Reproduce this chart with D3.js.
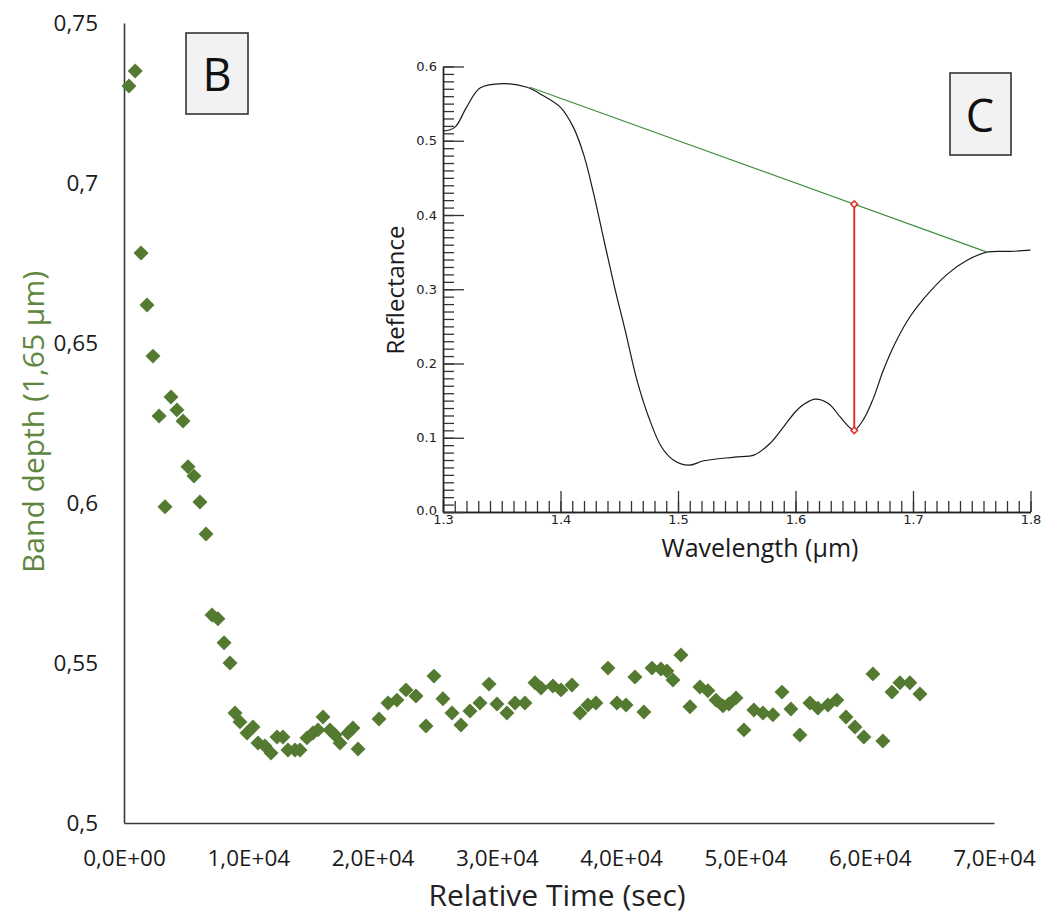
<!DOCTYPE html>
<html>
<head>
<meta charset="utf-8">
<script src="https://cdn.jsdelivr.net/npm/d3@7"></script>
<style>
html,body{margin:0;padding:0;background:#fff;}
svg{display:block;}
</style>
</head>
<body>
<svg id="chart" width="1046" height="923"></svg>
<script>
// ---------- Panel B data: band depth vs relative time ----------
const timeSec = [400,900,1370,1850,2330,2820,3300,3780,4260,4750,5150,5630,6110,6600,7080,7560,8050,8530,8930,9330,9900,10380,10780,11340,11830,12310,12790,13190,13760,14160,14720,15200,15610,16010,16570,16980,17380,18020,18420,18830,20520,21240,21960,22690,23490,24300,24940,25660,26390,27110,27840,28640,29370,30010,30810,31460,32260,33070,33550,34510,35160,36040,36690,37330,37970,38940,39660,40390,41110,41830,42480,43200,43680,44170,44810,45540,46340,46980,47630,48190,48670,49240,49880,50680,51410,52210,52940,53660,54380,55190,55830,56640,57360,58090,58810,59530,60260,61060,61790,62430,63230,64040];
const bandDepth = [0.7303,0.7350,0.6781,0.6619,0.6459,0.6272,0.5988,0.6331,0.6291,0.6256,0.6113,0.6084,0.6003,0.5903,0.5650,0.5638,0.5563,0.5500,0.5344,0.5316,0.5281,0.5300,0.5250,0.5241,0.5219,0.5269,0.5269,0.5228,0.5228,0.5228,0.5266,0.5281,0.5291,0.5331,0.5291,0.5275,0.5250,0.5281,0.5297,0.5231,0.5325,0.5375,0.5384,0.5416,0.5397,0.5303,0.5459,0.5388,0.5344,0.5306,0.5350,0.5375,0.5434,0.5372,0.5344,0.5375,0.5375,0.5438,0.5422,0.5428,0.5416,0.5431,0.5344,0.5369,0.5375,0.5484,0.5375,0.5369,0.5456,0.5347,0.5484,0.5481,0.5475,0.5447,0.5525,0.5363,0.5425,0.5413,0.5384,0.5366,0.5372,0.5391,0.5291,0.5353,0.5344,0.5338,0.5409,0.5356,0.5275,0.5375,0.5359,0.5369,0.5384,0.5331,0.5300,0.5269,0.5466,0.5256,0.5409,0.5438,0.5438,0.5403];
const xTickValues = [0,10000,20000,30000,40000,50000,60000,70000];
const xTickLabels = ["0,0E+00","1,0E+04","2,0E+04","3,0E+04","4,0E+04","5,0E+04","6,0E+04","7,0E+04"];
const yTickValues = [0.5,0.55,0.6,0.65,0.7,0.75];
const yTickLabels = ["0,5","0,55","0,6","0,65","0,7","0,75"];

// ---------- Panel C data: reflectance spectrum ----------
const wavelength = [1.300,1.310,1.320,1.3315,1.351,1.3715,1.385,1.400,1.411,1.420,1.428,1.437,1.446,1.455,1.465,1.475,1.486,1.496,1.509,1.522,1.548,1.565,1.578,1.590,1.600,1.608,1.617,1.628,1.638,1.646,1.650,1.658,1.666,1.675,1.685,1.697,1.709,1.729,1.746,1.763,1.783,1.800];
const reflectance = [0.513,0.518,0.545,0.571,0.577,0.572,0.561,0.545,0.518,0.480,0.430,0.366,0.303,0.245,0.178,0.128,0.0875,0.070,0.063,0.069,0.074,0.077,0.092,0.115,0.135,0.146,0.152,0.146,0.128,0.114,0.110,0.125,0.152,0.192,0.228,0.262,0.287,0.320,0.339,0.350,0.351,0.3526];
const continuumWl = [1.374,1.763];
const continuumRefl = [0.572,0.350];
const bandWl = [1.65,1.65];
const bandRefl = [0.110,0.4145];
const insetXMajor = [1.3,1.4,1.5,1.6,1.7,1.8];
const insetXLabels = ["1.3","1.4","1.5","1.6","1.7","1.8"];
const insetYMajor = [0,0.1,0.2,0.3,0.4,0.5,0.6];
const insetYLabels = ["0.0","0.1","0.2","0.3","0.4","0.5","0.6"];

const svg = d3.select("#chart");
const mainFont = "'Open Sans', 'Noto Sans', sans-serif";

// ---------- Panel B ----------
const x = d3.scaleLinear().domain([0,70000]).range([124,994]);
const y = d3.scaleLinear().domain([0.5,0.75]).range([823,23]);

const xAxis = svg.append("g").attr("transform","translate(0,823)")
  .call(d3.axisBottom(x).tickValues(xTickValues)
    .tickFormat((d,i)=>xTickLabels[i]).tickSize(0).tickPadding(27));
const yAxis = svg.append("g").attr("transform","translate(124,0)")
  .call(d3.axisLeft(y).tickValues(yTickValues)
    .tickFormat((d,i)=>yTickLabels[i]).tickSize(0).tickPadding(26));
[xAxis,yAxis].forEach(g=>{
  g.select(".domain").attr("stroke","#3a3a3a").attr("stroke-width",1.6);
  g.selectAll("text").attr("font-family",mainFont).attr("font-size",22.5).attr("fill","#1a1a1a");
});

svg.append("text").attr("x",557).attr("y",906).attr("text-anchor","middle")
  .attr("font-family",mainFont).attr("font-size",30).attr("fill","#222")
  .text("Relative Time (sec)");
svg.append("text").attr("transform","translate(44,422) rotate(-90)").attr("text-anchor","middle")
  .attr("font-family",mainFont).attr("font-size",30).attr("fill","#5f8740")
  .text("Band depth (1,65 µm)");

const diamond = d3.symbol().type(d3.symbolSquare).size(112);
svg.append("g").selectAll("path").data(timeSec).join("path")
  .attr("d",diamond)
  .attr("transform",(d,i)=>`translate(${x(d)},${y(bandDepth[i])}) rotate(45)`)
  .attr("fill","#537a30");

// Box B
svg.append("rect").attr("x",186).attr("y",33).attr("width",62).attr("height",81)
  .attr("fill","#f3f2f2").attr("stroke","#333").attr("stroke-width",1.6);
svg.append("text").attr("x",217).attr("y",91).attr("text-anchor","middle")
  .attr("font-family",mainFont).attr("font-size",45).attr("fill","#111").text("B");

// ---------- Panel C (inset) ----------
const xi = d3.scaleLinear().domain([1.3,1.8]).range([443,1030.5]);
const yi = d3.scaleLinear().domain([0,0.6]).range([512,66.5]);
const tickFont = "'DejaVu Sans', sans-serif";

const minorX = d3.range(0,51).map(i=>1.3+i*0.01);
const minorY = d3.range(0,61).map(i=>i*0.01);

const gxMinor = svg.append("g").attr("transform","translate(0,512)")
  .call(d3.axisBottom(xi).tickValues(minorX).tickFormat("").tickSize(-11).tickSizeOuter(0));
const gxMajor = svg.append("g").attr("transform","translate(0,512)")
  .call(d3.axisBottom(xi).tickValues(insetXMajor).tickFormat((d,i)=>insetXLabels[i]).tickSize(-21).tickSizeOuter(0).tickPadding(3));
const gyMinor = svg.append("g").attr("transform","translate(443,0)")
  .call(d3.axisLeft(yi).tickValues(minorY).tickFormat("").tickSize(-11).tickSizeOuter(0));
const gyMajor = svg.append("g").attr("transform","translate(443,0)")
  .call(d3.axisLeft(yi).tickValues(insetYMajor).tickFormat((d,i)=>insetYLabels[i]).tickSize(-21).tickSizeOuter(0).tickPadding(6));
[gxMinor,gxMajor,gyMinor,gyMajor].forEach(g=>{
  g.select(".domain").attr("stroke","#222").attr("stroke-width",1.4);
  g.selectAll(".tick line").attr("stroke","#333").attr("stroke-width",1.3);
  g.selectAll("text").attr("font-family",tickFont).attr("font-size",13).attr("fill","#222");
});
gyMajor.selectAll(".tick").filter(d=>d===0).select("text").attr("dy","0.2em");

svg.append("text").attr("x",760).attr("y",557).attr("text-anchor","middle")
  .attr("font-family",mainFont).attr("font-size",25).attr("fill","#1a1a1a")
  .text("Wavelength (µm)");
svg.append("text").attr("transform","translate(404,290) rotate(-90)").attr("text-anchor","middle")
  .attr("font-family",mainFont).attr("font-size",24).attr("fill","#1a1a1a")
  .text("Reflectance");

const spectrum = d3.line().x((d,i)=>xi(wavelength[i])).y((d,i)=>yi(reflectance[i])).curve(d3.curveCatmullRom);
svg.append("path").datum(wavelength).attr("d",spectrum)
  .attr("fill","none").attr("stroke","#1a1a1a").attr("stroke-width",1.2);

const cont = d3.line().x((d,i)=>xi(continuumWl[i])).y((d,i)=>yi(continuumRefl[i]));
svg.append("path").datum(continuumWl).attr("d",cont)
  .attr("fill","none").attr("stroke","#3f8f3f").attr("stroke-width",1.2);

const band = d3.line().x((d,i)=>xi(bandWl[i])).y((d,i)=>yi(bandRefl[i]));
svg.append("path").datum(bandWl).attr("d",band)
  .attr("fill","none").attr("stroke","#e0352b").attr("stroke-width",2);
const smallDiamond = d3.symbol().type(d3.symbolSquare).size(22);
svg.append("g").selectAll("path").data(bandWl).join("path")
  .attr("d",smallDiamond)
  .attr("transform",(d,i)=>`translate(${xi(d)},${yi(bandRefl[i])}) rotate(45)`)
  .attr("fill","#fff").attr("stroke","#e0352b").attr("stroke-width",1.6);

// Box C
svg.append("rect").attr("x",950).attr("y",73).attr("width",61).attr("height",82)
  .attr("fill","#f3f2f2").attr("stroke","#333").attr("stroke-width",1.6);
svg.append("text").attr("x",980).attr("y",132).attr("text-anchor","middle")
  .attr("font-family",mainFont).attr("font-size",45).attr("fill","#111").text("C");
</script>
</body>
</html>
